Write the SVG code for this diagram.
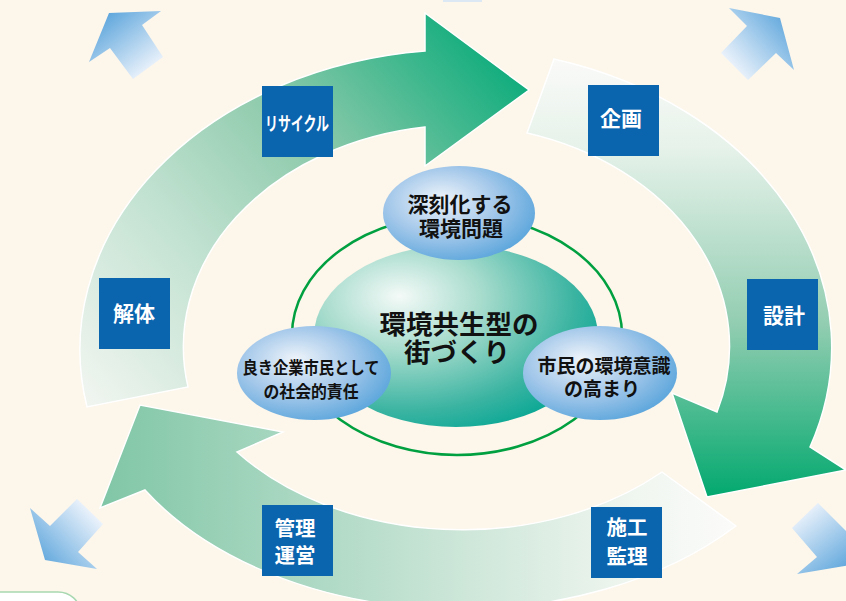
<svg xmlns="http://www.w3.org/2000/svg" width="846" height="601" viewBox="0 0 846 601">
<defs>
<style>
.lbl{fill:#0b64ae}
.lt{fill:#fff;font-family:"Noto Sans CJK JP","Noto Sans",sans-serif;font-weight:bold;text-anchor:middle}
.bt{fill:#111;font-family:"Noto Sans CJK JP","Noto Sans",sans-serif;font-weight:bold;text-anchor:middle}
.arw{stroke:#fff;stroke-width:1.5;stroke-linejoin:miter}
</style>
<linearGradient id="g1" gradientUnits="userSpaceOnUse" x1="90" y1="420" x2="500" y2="60">
<stop offset="0" stop-color="#f3f6f2"/>
<stop offset="0.35" stop-color="#c2e2d1"/>
<stop offset="0.65" stop-color="#8bc9aa"/>
<stop offset="1" stop-color="#12ad7d"/>
</linearGradient>
<linearGradient id="g2" gradientUnits="userSpaceOnUse" x1="0" y1="60" x2="0" y2="500">
<stop offset="0" stop-color="#fafaf8"/>
<stop offset="0.2" stop-color="#e6f2ea"/>
<stop offset="0.6" stop-color="#92cdb1"/>
<stop offset="1" stop-color="#00a86e"/>
</linearGradient>
<linearGradient id="g3" gradientUnits="userSpaceOnUse" x1="730" y1="0" x2="100" y2="0">
<stop offset="0" stop-color="#fbfbfa"/>
<stop offset="0.15" stop-color="#f0f6f0"/>
<stop offset="0.5" stop-color="#c3e2d2"/>
<stop offset="1" stop-color="#80c6a6"/>
</linearGradient>
<linearGradient id="bTL" gradientUnits="userSpaceOnUse" x1="150" y1="72" x2="105" y2="15">
<stop offset="0" stop-color="#eef4fc"/><stop offset="1" stop-color="#5ea6dc"/>
</linearGradient>
<linearGradient id="bTR" gradientUnits="userSpaceOnUse" x1="733" y1="70" x2="790" y2="20">
<stop offset="0" stop-color="#eef4fc"/><stop offset="1" stop-color="#5ea6dc"/>
</linearGradient>
<linearGradient id="bBL" gradientUnits="userSpaceOnUse" x1="92" y1="510" x2="38" y2="560">
<stop offset="0" stop-color="#eef4fc"/><stop offset="1" stop-color="#5ea6dc"/>
</linearGradient>
<linearGradient id="bBR" gradientUnits="userSpaceOnUse" x1="800" y1="512" x2="846" y2="570">
<stop offset="0" stop-color="#eef4fc"/><stop offset="1" stop-color="#5ea6dc"/>
</linearGradient>
<radialGradient id="bub" cx="0.4" cy="0.4" r="0.65" fx="0.38" fy="0.35">
<stop offset="0" stop-color="#eef4fa"/>
<stop offset="0.55" stop-color="#a4c8ea"/>
<stop offset="1" stop-color="#5ca6dc"/>
</radialGradient>
<radialGradient id="cen" cx="0.32" cy="0.32" r="0.8" fx="0.3" fy="0.28">
<stop offset="0" stop-color="#f4faf8"/>
<stop offset="0.35" stop-color="#a8dccd"/>
<stop offset="0.75" stop-color="#3cb4a2"/>
<stop offset="1" stop-color="#00a592"/>
</radialGradient>
</defs>
<rect width="846" height="601" fill="#fcf6eb"/>

<g id="corner-arrows">
<polygon points="89,62 109,13 161,11 142,25 163,57 133,79 110,48" fill="url(#bTL)"/>
<polygon points="729,8 780,18 794,70 776,53 748,80 721,53 747,26" fill="url(#bTR)"/>
<polygon points="77,499 103,524 78,552 97,569 45,560 30,508 50,526" fill="url(#bBL)"/>
<polygon points="818,503 850,535 850,565 797,574 817,557 792,528" fill="url(#bBR)"/>
<rect x="443" y="0" width="39" height="2" fill="#dce8f4"/>
<rect x="-30" y="592" width="110" height="40" rx="22" fill="#fff" stroke="#a8d8b0" stroke-width="1.5"/>
<rect x="843" y="596" width="50" height="40" rx="20" fill="#fff" stroke="#a8d8b0" stroke-width="1.5"/>
</g>

<g id="connectors">
<path class="arw" fill="url(#g1)" d="M87,407 A383,300 0 0 1 425,51 L425,13 L529,90 L425,166 L425,127 A280,222 0 0 0 188,387 Z"/>
<path class="arw" fill="url(#g2)" d="M554,59 A383,300 0 0 1 810,447 L846,470 L707,497 L672,393 L717,412 A280,222 0 0 0 527,133 Z"/>
<path class="arw" fill="url(#g3)" d="M662,472 L736,526 A370,250 0 0 1 145,490 L100,508 L140,405 L283,432 L237,452 A290,210 0 0 0 662,472 Z"/>
<ellipse cx="457" cy="335" rx="165" ry="120" fill="none" stroke="#00a040" stroke-width="2.5"/>
</g>

<g id="center">
<ellipse cx="456" cy="336" rx="142" ry="91" fill="url(#cen)"/>
<text class="bt" x="459" y="334" font-size="26.5">環境共生型の</text>
<text class="bt" x="457" y="362" font-size="26.5">街づくり</text>
</g>

<g id="bubble-top">
<ellipse cx="459" cy="213" rx="76" ry="47" fill="url(#bub)"/>
<text class="bt" x="460" y="212" font-size="21">深刻化する</text>
<text class="bt" x="461" y="236" font-size="21">環境問題</text>
</g>
<g id="bubble-left">
<ellipse cx="314" cy="373" rx="77" ry="47" fill="url(#bub)"/>
<text class="bt" x="311" y="374" font-size="17" textLength="137" lengthAdjust="spacingAndGlyphs">良き企業市民として</text>
<text class="bt" x="311" y="398" font-size="17" textLength="95" lengthAdjust="spacingAndGlyphs">の社会的責任</text>
</g>
<g id="bubble-right">
<ellipse cx="600" cy="373" rx="77" ry="47" fill="url(#bub)"/>
<text class="bt" x="604" y="373" font-size="19">市民の環境意識</text>
<text class="bt" x="602" y="396" font-size="19">の高まり</text>
</g>

<g id="n-recycle">
<rect class="lbl" x="262" y="86" width="71" height="71"/>
<text class="lt" x="297" y="131" font-size="19" textLength="64" lengthAdjust="spacingAndGlyphs">リサイクル</text>
</g>
<g id="n-kikaku">
<rect class="lbl" x="588" y="85" width="71" height="71"/>
<text class="lt" x="621" y="126" font-size="21">企画</text>
</g>
<g id="n-sekkei">
<rect class="lbl" x="747" y="279" width="71" height="71"/>
<text class="lt" x="784" y="323" font-size="21">設計</text>
</g>
<g id="n-kaitai">
<rect class="lbl" x="99" y="278" width="71" height="71"/>
<text class="lt" x="134" y="321" font-size="21">解体</text>
</g>
<g id="n-kanri">
<rect class="lbl" x="262" y="505" width="71" height="71"/>
<text class="lt" x="295" y="536" font-size="20.5">管理</text>
<text class="lt" x="295" y="563" font-size="20.5">運営</text>
</g>
<g id="n-seko">
<rect class="lbl" x="591" y="507" width="71" height="71"/>
<text class="lt" x="627" y="535" font-size="20.5">施工</text>
<text class="lt" x="627" y="564" font-size="20.5">監理</text>
</g>
</svg>
